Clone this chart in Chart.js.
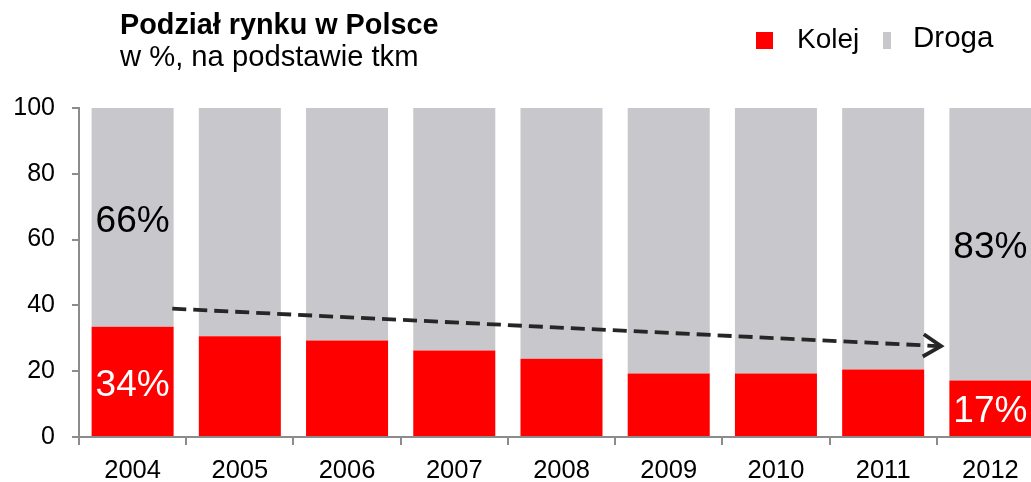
<!DOCTYPE html>
<html lang="pl">
<head>
<meta charset="utf-8">
<title>Podział rynku w Polsce</title>
<script src="https://cdn.jsdelivr.net/npm/chart.js@4"></script>
<style>
    html, body { margin:0; padding:0; background:#fff; overflow:hidden; }
    body { font-family:"Liberation Sans", Arial, sans-serif; color:#000; }
    .wrap { position:relative; width:1044px; height:482px; }
    .wrap canvas { position:absolute; left:0; top:0; }
    .title { position:absolute; left:120px; top:8px; font-size:28.8px; font-weight:bold; line-height:33px; white-space:nowrap; }
    .subtitle { position:absolute; left:120px; top:40px; font-size:29.2px; line-height:33px; white-space:nowrap; }
    .box { position:absolute; top:32px; height:17px; }
    .lbl { position:absolute; white-space:nowrap; }
</style>
</head>
<body>
<div class="wrap">
    <canvas id="marketChart" width="1044" height="482"></canvas>
    <div class="title">Podział rynku w Polsce</div>
    <div class="subtitle">w %, na podstawie tkm</div>
    <div class="box" style="left:756px; width:17px; background:#ff0000;"></div>
    <div class="lbl" style="left:797px; top:23px; font-size:28px; line-height:32px;">Kolej</div>
    <div class="box" style="left:883px; width:8px; background:#c8c8cc;"></div>
    <div class="lbl" style="left:913px; top:20px; font-size:29.5px; line-height:33px;">Droga</div>
</div>
<script>
const FONT = '"Liberation Sans", Arial, sans-serif';

const years = ['2004', '2005', '2006', '2007', '2008', '2009', '2010', '2011', '2012'];
const kolej = [33.5, 30.6, 29.3, 26.3, 23.8, 19.3, 19.3, 20.5, 17.2];
const droga = [66.5, 69.4, 70.7, 73.7, 76.2, 80.7, 80.7, 79.5, 82.8];
const kolejLabels = ['34%', '', '', '', '', '', '', '', '17%'];
const drogaLabels = ['66%', '', '', '', '', '', '', '', '83%'];
const yTicks = [0, 20, 40, 60, 80, 100];

// trend arrow, in data units: [category index, percent]
const arrowFrom = [0.37, 39];
const arrowTo = [7.54, 27.6];

const segmentLabels = {
    id: 'segmentLabels',
    afterDatasetsDraw(chart) {
        const ctx = chart.ctx;
        const texts = [kolejLabels, drogaLabels];
        const colors = ['#ffffff', '#000000'];
        ctx.save();
        ctx.font = '37px ' + FONT;
        ctx.textAlign = 'center';
        ctx.textBaseline = 'middle';
        texts.forEach((list, i) => {
            chart.getDatasetMeta(i).data.forEach((bar, j) => {
                if (!list[j]) return;
                ctx.fillStyle = colors[i];
                ctx.fillText(list[j], bar.x, (bar.y + bar.base) / 2 + 4);
            });
        });
        ctx.restore();
    }
};

const trendArrow = {
    id: 'trendArrow',
    afterDatasetsDraw(chart) {
        const { ctx, scales } = chart;
        const x0 = scales.x.getPixelForValue(arrowFrom[0]);
        const y0 = scales.y.getPixelForValue(arrowFrom[1]);
        const x1 = scales.x.getPixelForValue(arrowTo[0]);
        const y1 = scales.y.getPixelForValue(arrowTo[1]);
        const ang = Math.atan2(y1 - y0, x1 - x0);

        ctx.save();
        ctx.strokeStyle = '#262626';
        ctx.lineWidth = 3.8;
        ctx.setLineDash([14, 7]);
        ctx.beginPath();
        ctx.moveTo(x0, y0);
        ctx.lineTo(x1 - 3 * Math.cos(ang), y1 - 3 * Math.sin(ang));
        ctx.stroke();

        ctx.setLineDash([]);
        ctx.lineJoin = 'miter';
        const len = 21, spread = 0.56;
        ctx.beginPath();
        ctx.moveTo(x1 - len * Math.cos(ang - spread), y1 - len * Math.sin(ang - spread));
        ctx.lineTo(x1, y1);
        ctx.lineTo(x1 - len * Math.cos(ang + spread), y1 - len * Math.sin(ang + spread));
        ctx.stroke();
        ctx.restore();
    }
};

new Chart(document.getElementById('marketChart'), {
    type: 'bar',
    data: {
        labels: years,
        datasets: [
            { label: 'Kolej', data: kolej, backgroundColor: '#ff0000', borderWidth: 0 },
            { label: 'Droga', data: droga, backgroundColor: '#c8c8cc', borderWidth: 0 }
        ]
    },
    options: {
        responsive: false,
        animation: false,
        devicePixelRatio: 1,
        layout: { padding: { left: 15, top: 108, right: 0, bottom: 0 } },
        datasets: { bar: { barPercentage: 0.765, categoryPercentage: 1 } },
        plugins: { legend: { display: false }, tooltip: { enabled: false }, title: { display: false } },
        scales: {
            x: {
                stacked: true,
                grid: { offset: true, drawOnChartArea: false, drawTicks: true, tickLength: 8, color: '#8c8c8c', lineWidth: 2 },
                border: { color: '#8c8c8c', width: 2 },
                ticks: { color: '#000', font: { size: 25.5, family: FONT }, padding: 11, maxRotation: 0 },
                afterFit: s => { s.height = 45; }
            },
            y: {
                stacked: true,
                min: 0,
                max: 100,
                afterBuildTicks: s => { s.ticks = yTicks.map(v => ({ value: v })); },
                grid: { drawOnChartArea: false, drawTicks: true, tickLength: 7, color: '#8c8c8c', lineWidth: 2 },
                border: { color: '#8c8c8c', width: 2 },
                ticks: { color: '#000', font: { size: 25, family: FONT }, padding: 17 },
                afterFit: s => { s.width = 64; }
            }
        }
    },
    plugins: [segmentLabels, trendArrow]
});
</script>
</body>
</html>
